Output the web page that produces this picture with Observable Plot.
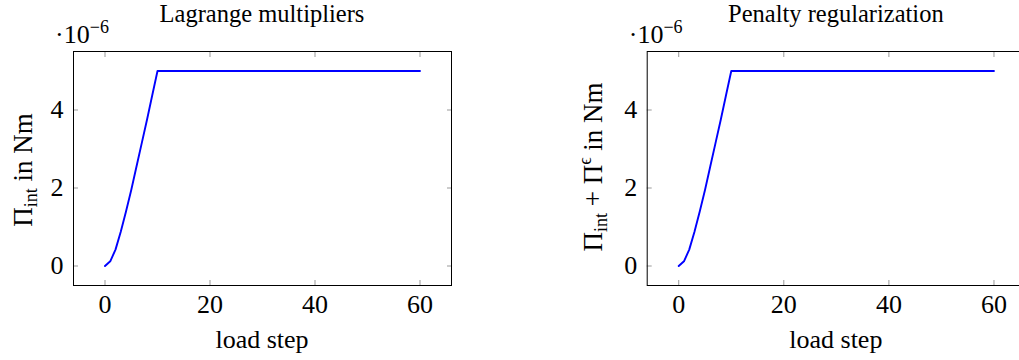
<!DOCTYPE html>
<html><head><meta charset="utf-8">
<script src="https://cdn.jsdelivr.net/npm/d3@7"></script>
<script src="https://cdn.jsdelivr.net/npm/@observablehq/plot@0.6"></script>
<style>
html,body{margin:0;padding:0;background:#fff;overflow:hidden;width:1019px;height:360px}
#wrap{position:relative;width:1019px;height:360px;overflow:hidden}
#wrap svg{position:absolute;top:0}
#wrap svg, #wrap svg text{font-family:'Liberation Serif','DejaVu Serif',serif !important}
</style></head><body><div id="wrap"></div>
<script>
// load steps 0..60
const loadStep = [0,1,2,3,4,5,6,7,8,9,10,11,12,13,14,15,16,17,18,19,20,21,22,23,24,25,26,27,28,29,30,
  31,32,33,34,35,36,37,38,39,40,41,42,43,44,45,46,47,48,49,50,51,52,53,54,55,56,57,58,59,60];
// energies in units of 1e-6 Nm
const piLagrange = [0,0.12,0.42,0.88,1.40,1.95,2.55,3.15,3.75,4.38,5.0,
  5.0,5.0,5.0,5.0,5.0,5.0,5.0,5.0,5.0,5.0,5.0,5.0,5.0,5.0,5.0,5.0,5.0,5.0,5.0,5.0,
  5.0,5.0,5.0,5.0,5.0,5.0,5.0,5.0,5.0,5.0,5.0,5.0,5.0,5.0,5.0,5.0,5.0,5.0,5.0,5.0,
  5.0,5.0,5.0,5.0,5.0,5.0,5.0,5.0,5.0,5.0];
const piPenalty = [0,0.12,0.42,0.88,1.40,1.95,2.55,3.15,3.75,4.38,5.0,
  5.0,5.0,5.0,5.0,5.0,5.0,5.0,5.0,5.0,5.0,5.0,5.0,5.0,5.0,5.0,5.0,5.0,5.0,5.0,5.0,
  5.0,5.0,5.0,5.0,5.0,5.0,5.0,5.0,5.0,5.0,5.0,5.0,5.0,5.0,5.0,5.0,5.0,5.0,5.0,5.0,
  5.0,5.0,5.0,5.0,5.0,5.0,5.0,5.0,5.0,5.0];
const xTicks = [0,20,40,60];
const yTicks = [0,2,4];
const titles = ["Lagrange multipliers", "Penalty regularization"];

const FONT = "'Liberation Serif', 'DejaVu Serif', serif";
const FS = 26;

function panel(values, title, yLabel, left, width, mL, mR, labelX, labelY) {
  const data = loadStep.map((x, i) => ({x, y: values[i]}));
  const svg = Plot.plot({
    width, height: 360, marginLeft: mL, marginRight: mR, marginTop: 51, marginBottom: 75,
    style: {fontFamily: FONT, fontSize: FS + "px", color: "#000", background: "transparent", overflow: "visible"},
    x: {domain: [-6, 66]},
    y: {domain: [-0.5, 5.5]},
    marks: [
      Plot.axisX(xTicks, {anchor: "bottom", tickSize: -5, stroke: "#999", tickFormat: () => "", label: null}),
      Plot.axisX(xTicks, {anchor: "top", tickSize: -5, stroke: "#999", tickFormat: () => "", label: null}),
      Plot.axisY(yTicks, {anchor: "left", tickSize: -5, stroke: "#999", tickFormat: () => "", label: null}),
      Plot.axisY(yTicks, {anchor: "right", tickSize: -5, stroke: "#999", tickFormat: () => "", label: null}),
      Plot.axisX(xTicks, {anchor: "bottom", tickSize: 0, tickPadding: 9, label: null, fontSize: FS, fontFamily: FONT}),
      Plot.axisY(yTicks, {anchor: "left", tickSize: 0, tickPadding: 10, label: null, fontSize: FS, fontFamily: FONT}),
      Plot.line(data, {x: "x", y: "y", stroke: "#0000ff", strokeWidth: 1.9}),
      Plot.frame({stroke: "#000", strokeWidth: 1})
    ]
  });
  svg.style.left = left + "px";
  const s = d3.select(svg);
  const cx = mL + (width - mL - mR) / 2;
  s.append("text").attr("x", cx).attr("y", 22).attr("text-anchor", "middle")
    .attr("font-size", 24.5).attr("font-family", FONT).text(title);
  const m = s.append("text").attr("x", mL + 9).attr("y", 43).attr("font-size", FS).attr("font-family", FONT);
  m.append("tspan").text("·10");
  m.append("tspan").attr("dy", -10).attr("font-size", 18).text("−6");
  s.append("text").attr("x", cx).attr("y", 348).attr("text-anchor", "middle")
    .attr("font-size", FS).attr("font-family", FONT).text("load step");
  const yl = s.append("text").attr("transform", `translate(${labelX},${labelY}) rotate(-90)`)
    .attr("text-anchor", "middle").attr("font-size", 27).attr("font-family", FONT);
  yLabel(yl);
  document.getElementById("wrap").appendChild(svg);
}

panel(piLagrange, titles[0], t => {
  t.append("tspan").text("Π");
  t.append("tspan").attr("font-size", 18).attr("dy", 5).text("int");
  t.append("tspan").attr("dy", -5).text(" in Nm");
}, 0, 510, 73, 59, 32, 170);

panel(piPenalty, titles[1], t => {
  t.append("tspan").text("Π");
  t.append("tspan").attr("font-size", 18).attr("dy", 5).text("int");
  t.append("tspan").attr("dy", -5).text(" + Π");
  t.append("tspan").attr("font-size", 18).attr("dy", -11).text("ϵ");
  t.append("tspan").attr("dy", 11).text(" in Nm");
}, 540, 500, 106.7, 15, 602 - 540, 167);
</script></body></html>
